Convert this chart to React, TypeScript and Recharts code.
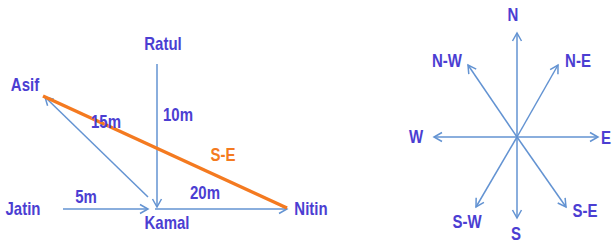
import { ComposedChart, XAxis, YAxis, Scatter, ReferenceLine } from "recharts";

// picture is a diagram: positions given on a 613 x 244 grid (y down)
const people = [
  { name: "Jatin", x: 23, y: 209 },
  { name: "Kamal", x: 167, y: 223 },
  { name: "Nitin", x: 311, y: 209 },
  { name: "Ratul", x: 163, y: 44 },
  { name: "Asif", x: 25, y: 85 },
];

const distances = [
  { name: "5m", x: 86, y: 197 },
  { name: "20m", x: 205, y: 193 },
  { name: "10m", x: 178, y: 115 },
  { name: "15m", x: 106, y: 122 },
];

const walks = [
  { from: { x: 63, y: 209 }, to: { x: 148, y: 209 } },
  { from: { x: 155, y: 209 }, to: { x: 287, y: 209 } },
  { from: { x: 157, y: 64 }, to: { x: 157, y: 207 } },
  { from: { x: 148, y: 197 }, to: { x: 45, y: 97 } },
];

const shortest = { from: { x: 43, y: 96 }, to: { x: 287, y: 208 }, name: "S-E", lx: 223, ly: 155 };

const compassCenter = { x: 517, y: 137 };
const compassTips = [
  { x: 517, y: 33 },
  { x: 517, y: 218 },
  { x: 434, y: 137 },
  { x: 598, y: 137 },
  { x: 558, y: 65 },
  { x: 468, y: 65 },
  { x: 566, y: 207 },
  { x: 476, y: 207 },
];
const compassLabels = [
  { name: "N", x: 513, y: 15 },
  { name: "N-W", x: 447, y: 61 },
  { name: "N-E", x: 578, y: 61 },
  { name: "W", x: 416, y: 137 },
  { name: "E", x: 606, y: 138 },
  { name: "S-W", x: 467, y: 222 },
  { name: "S", x: 516, y: 234 },
  { name: "S-E", x: 585, y: 211 },
];

const BLUE = "#6393d2";
const TEXT = "#4b3ed2";
const ORANGE = "#f47a20";

function TextMark(props: any) {
  const { cx, cy, payload } = props;
  // the source lettering is a little taller than plain Arial bold
  return (
    <g transform={`translate(${cx},${cy}) scale(1,1.2)`}>
      <text
        x={0}
        y={0}
        textAnchor="middle"
        dominantBaseline="central"
        fill={payload.color || TEXT}
        fontFamily="'Liberation Sans', Arial, sans-serif"
        fontWeight="bold"
        fontSize={15}
      >
        {payload.name}
      </text>
    </g>
  );
}

export default function App() {
  const labels = [
    ...people,
    ...distances,
    ...compassLabels,
    { name: shortest.name, x: shortest.lx, y: shortest.ly, color: ORANGE },
  ];
  return (
    <div style={{ position: "absolute", left: 0, top: 0, background: "#fff" }}>
      <ComposedChart width={613} height={244} margin={{ top: 0, right: 0, bottom: 0, left: 0 }}>
        <defs>
          <marker
            id="arrow"
            markerWidth={12}
            markerHeight={12}
            refX={10}
            refY={6}
            orient="auto"
            markerUnits="userSpaceOnUse"
          >
            <path d="M2,1.5 L10,6 L2,10.5" fill="none" stroke={BLUE} strokeWidth={1.5} />
          </marker>
        </defs>
        <XAxis type="number" dataKey="x" domain={[0, 613]} hide />
        <YAxis type="number" dataKey="y" domain={[0, 244]} reversed hide />
        {walks.map((w, i) => (
          <ReferenceLine
            key={"w" + i}
            segment={[w.from, w.to]}
            stroke={BLUE}
            strokeWidth={1.5}
            markerEnd="url(#arrow)"
          />
        ))}
        {compassTips.map((t, i) => (
          <ReferenceLine
            key={"c" + i}
            segment={[compassCenter, t]}
            stroke={BLUE}
            strokeWidth={1.5}
            markerEnd="url(#arrow)"
          />
        ))}
        <ReferenceLine
          segment={[shortest.from, shortest.to]}
          stroke={ORANGE}
          strokeWidth={3.5}
        />
        <Scatter data={labels} shape={<TextMark />} isAnimationActive={false} />
      </ComposedChart>
    </div>
  );
}
